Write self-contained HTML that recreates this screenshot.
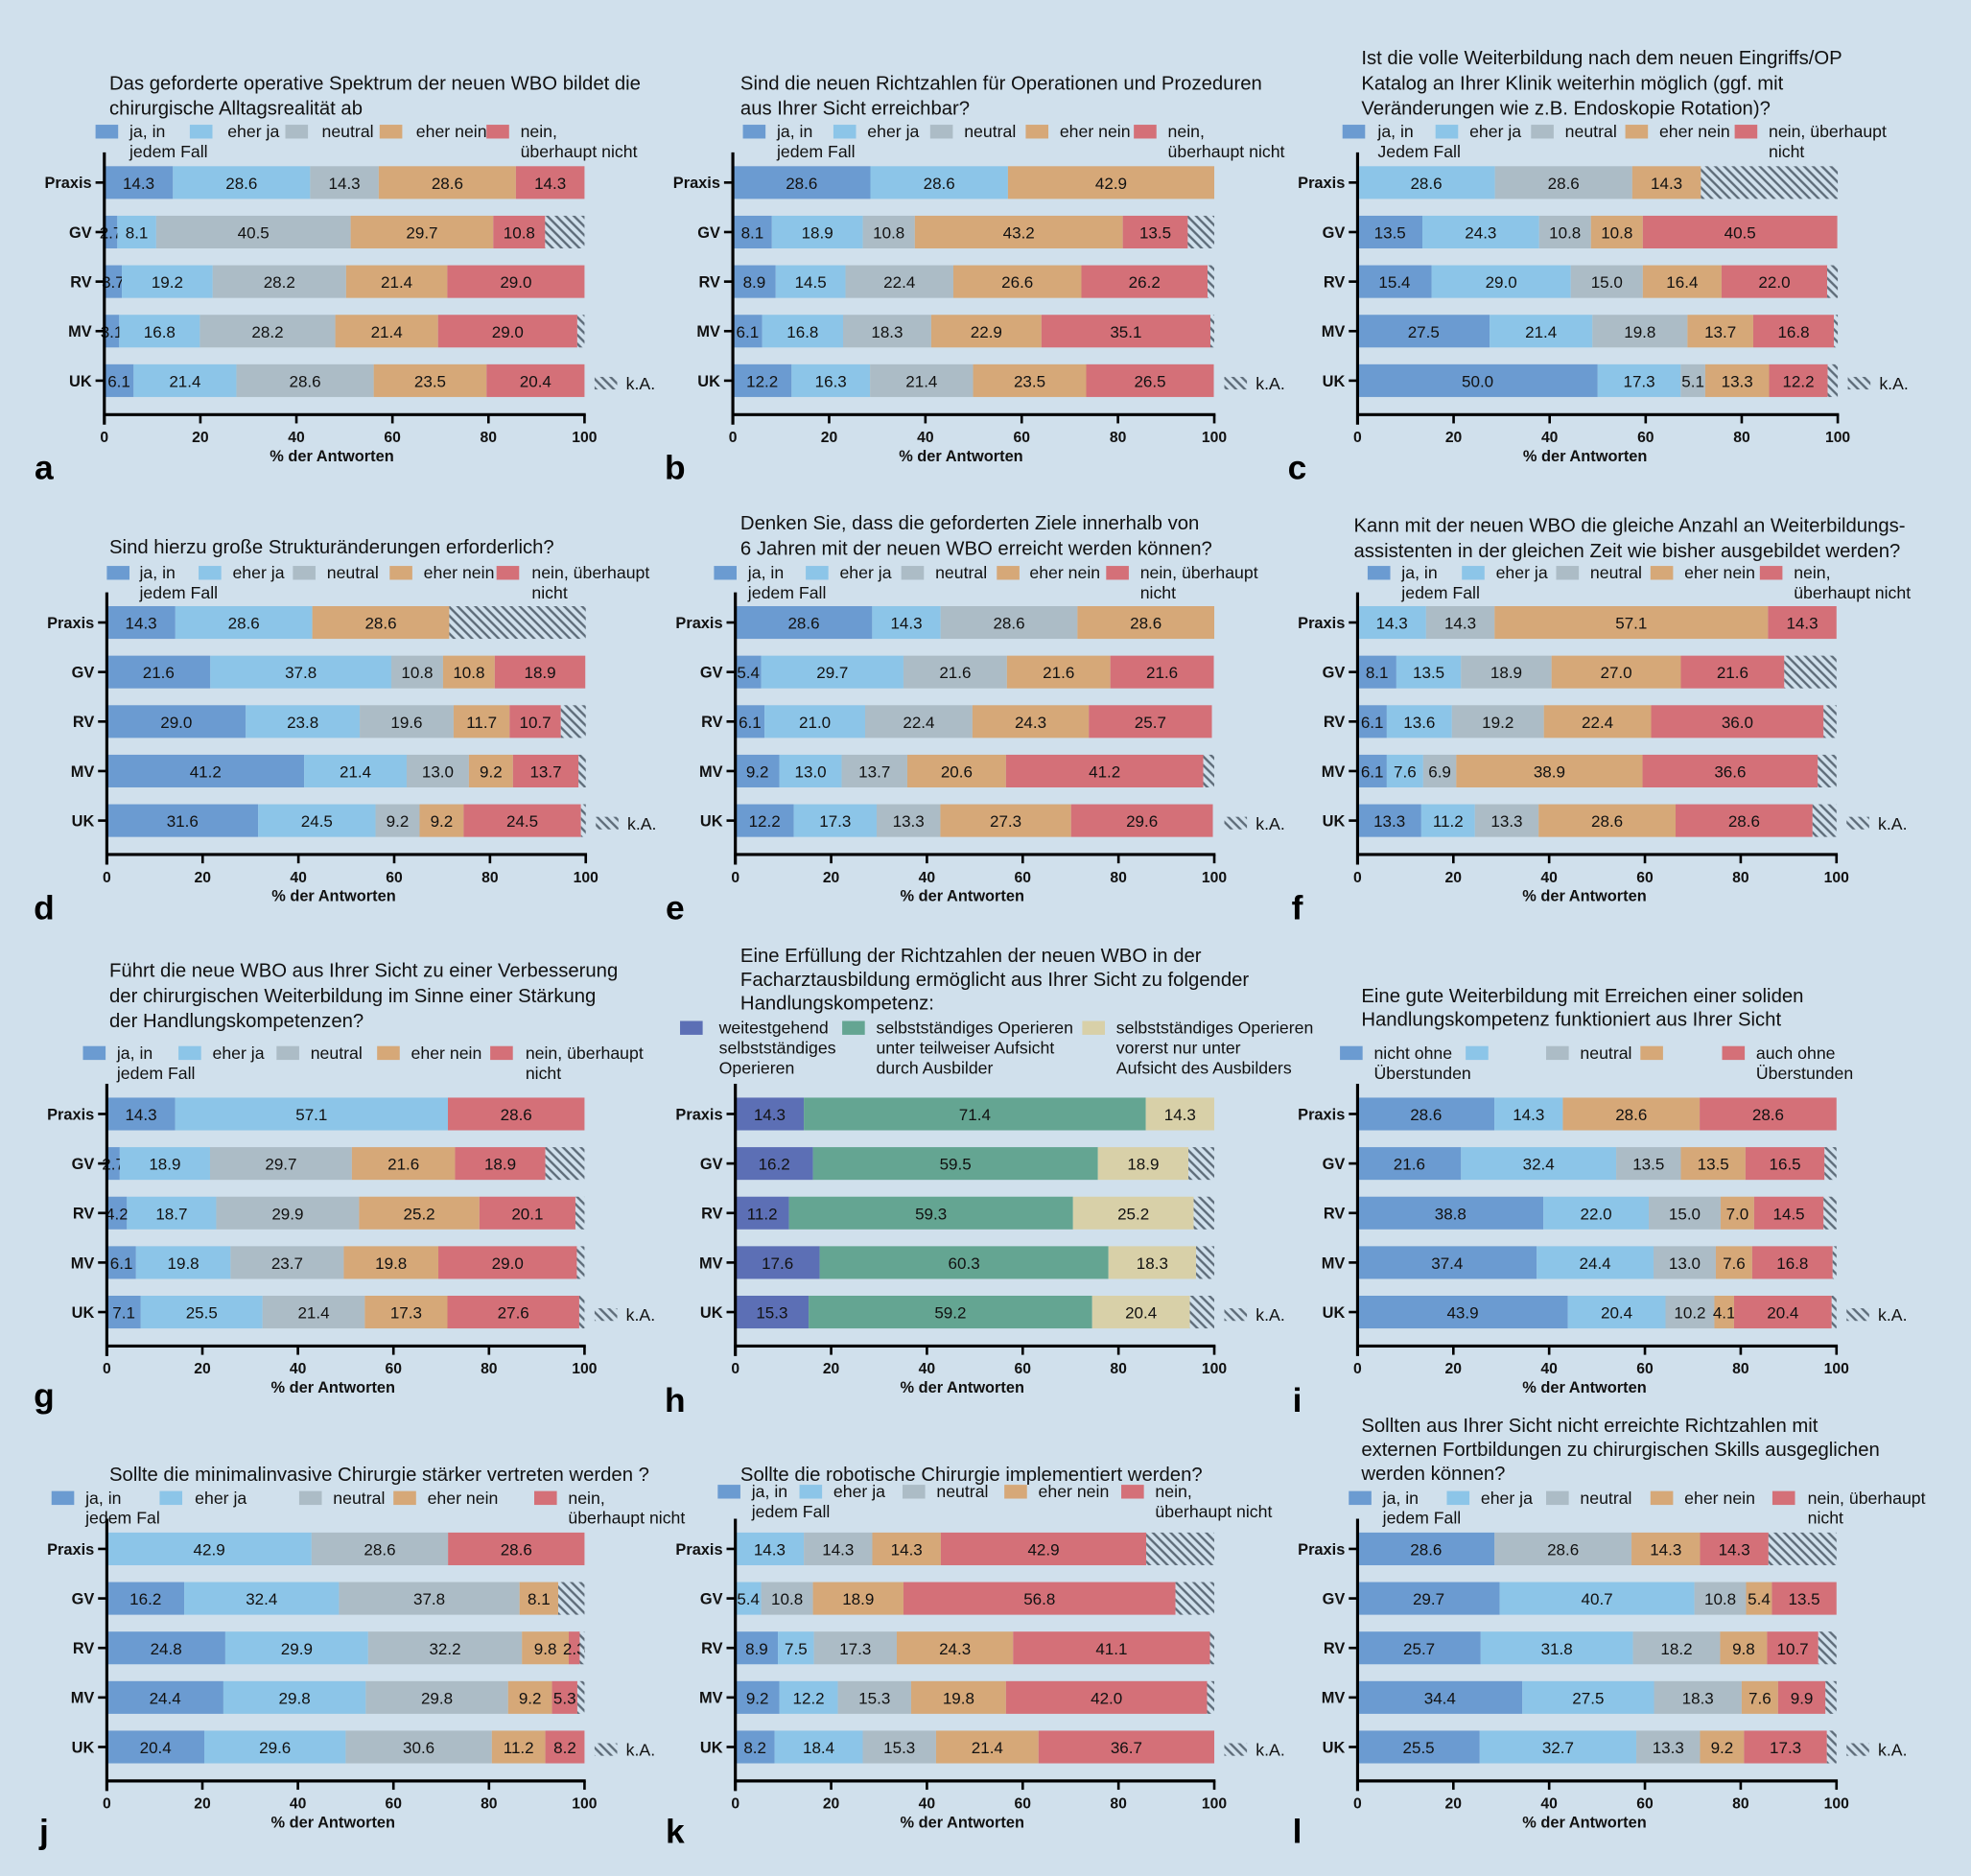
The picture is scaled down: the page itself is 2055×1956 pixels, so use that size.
<!DOCTYPE html>
<html><head><meta charset="utf-8">
<style>
html,body{margin:0;padding:0;background:#d0e0ec;}
svg{display:block;font-family:"Liberation Sans",Arial,sans-serif;}
</style></head>
<body>
<svg id="fig" width="2055" height="1956" viewBox="0 0 1568 1492" xmlns="http://www.w3.org/2000/svg">
<defs>
<pattern id="hatch" width="5" height="5" patternUnits="userSpaceOnUse" patternTransform="rotate(-45)">
<rect width="5" height="5" fill="#d0e0ec"/>
<line x1="1.5" y1="0" x2="1.5" y2="5" stroke="#5d6b78" stroke-width="1.8"/>
</pattern>
</defs>
<rect width="1568" height="1492" fill="#d0e0ec"/>
<g id="root"></g>
</svg>
<script>
const categories = ['Praxis','GV','RV','MV','UK'];
const tickLabels = [0,20,40,60,80,100];
const colors5 = ['#6b9bd1','#8cc5e8','#acbcc6','#d6a878','#d47078'];
const colors3 = ['#5c6fb5','#64a592','#d8d0a8'];

const valuesA = [[14.3,28.6,14.3,28.6,14.3],[2.7,8.1,40.5,29.7,10.8],[3.7,19.2,28.2,21.4,29.0],[3.1,16.8,28.2,21.4,29.0],[6.1,21.4,28.6,23.5,20.4]];
const valuesB = [[28.6,28.6,0,42.9,0],[8.1,18.9,10.8,43.2,13.5],[8.9,14.5,22.4,26.6,26.2],[6.1,16.8,18.3,22.9,35.1],[12.2,16.3,21.4,23.5,26.5]];
const valuesC = [[0,28.6,28.6,14.3,0],[13.5,24.3,10.8,10.8,40.5],[15.4,29.0,15.0,16.4,22.0],[27.5,21.4,19.8,13.7,16.8],[50.0,17.3,5.1,13.3,12.2]];
const valuesD = [[14.3,28.6,0,28.6,0],[21.6,37.8,10.8,10.8,18.9],[29.0,23.8,19.6,11.7,10.7],[41.2,21.4,13.0,9.2,13.7],[31.6,24.5,9.2,9.2,24.5]];
const valuesE = [[28.6,14.3,28.6,28.6,0],[5.4,29.7,21.6,21.6,21.6],[6.1,21.0,22.4,24.3,25.7],[9.2,13.0,13.7,20.6,41.2],[12.2,17.3,13.3,27.3,29.6]];
const valuesF = [[0,14.3,14.3,57.1,14.3],[8.1,13.5,18.9,27.0,21.6],[6.1,13.6,19.2,22.4,36.0],[6.1,7.6,6.9,38.9,36.6],[13.3,11.2,13.3,28.6,28.6]];
const valuesG = [[14.3,57.1,0,0,28.6],[2.7,18.9,29.7,21.6,18.9],[4.2,18.7,29.9,25.2,20.1],[6.1,19.8,23.7,19.8,29.0],[7.1,25.5,21.4,17.3,27.6]];
const valuesH = [[14.3,71.4,14.3],[16.2,59.5,18.9],[11.2,59.3,25.2],[17.6,60.3,18.3],[15.3,59.2,20.4]];
const valuesI = [[28.6,14.3,0,28.6,28.6],[21.6,32.4,13.5,13.5,16.5],[38.8,22.0,15.0,7.0,14.5],[37.4,24.4,13.0,7.6,16.8],[43.9,20.4,10.2,4.1,20.4]];
const valuesJ = [[0,42.9,28.6,0,28.6],[16.2,32.4,37.8,8.1,0],[24.8,29.9,32.2,9.8,2.3],[24.4,29.8,29.8,9.2,5.3],[20.4,29.6,30.6,11.2,8.2]];
const valuesK = [[0,14.3,14.3,14.3,42.9],[0,5.4,10.8,18.9,56.8],[8.9,7.5,17.3,24.3,41.1],[9.2,12.2,15.3,19.8,42.0],[8.2,18.4,15.3,21.4,36.7]];
const valuesL = [[28.6,0,28.6,14.3,14.3],[29.7,40.7,10.8,5.4,13.5],[25.7,31.8,18.2,9.8,10.7],[34.4,27.5,18.3,7.6,9.9],[25.5,32.7,13.3,9.2,17.3]];

const NS='http://www.w3.org/2000/svg';
const root=document.getElementById('root');
function mk(tag,attrs,parent,text){const e=document.createElementNS(NS,tag);for(const k in attrs)e.setAttribute(k,attrs[k]);if(text!==undefined)e.textContent=text;(parent||root).appendChild(e);return e;}

const panels=[
 {id:'a',vals:valuesA,cols:colors5,x0:83,x1:465,y0:145,letter:[35,372],
  title:[87,[66,86],['Das geforderte operative Spektrum der neuen WBO bildet die','chirurgische Alltagsrealität ab']],
  leg:{y:104,items:[[76,103,['ja, in','jedem Fall']],[151,181,['eher ja']],[227,256,['neutral']],[302,331,['eher nein']],[387,414,['nein,','überhaupt nicht']]]}},
 {id:'b',vals:valuesB,cols:colors5,x0:583,x1:966,y0:145,letter:[537,372],
  title:[589,[66,86],['Sind die neuen Richtzahlen für Operationen und Prozeduren','aus Ihrer Sicht erreichbar?']],
  leg:{y:104,items:[[591,618,['ja, in','jedem Fall']],[663,690,['eher ja']],[740,767,['neutral']],[816,843,['eher nein']],[902,929,['nein,','überhaupt nicht']]]}},
 {id:'c',vals:valuesC,cols:colors5,x0:1080,x1:1462,y0:145,letter:[1032,372],
  title:[1083,[46,66,86],['Ist die volle Weiterbildung nach dem neuen Eingriffs/OP','Katalog an Ihrer Klinik weiterhin möglich (ggf. mit','Veränderungen wie z.B. Endoskopie Rotation)?']],
  leg:{y:104,items:[[1068,1096,['ja, in','Jedem Fall']],[1142,1169,['eher ja']],[1218,1245,['neutral']],[1293,1320,['eher nein']],[1380,1407,['nein, überhaupt','nicht']]]}},
 {id:'d',vals:valuesD,cols:colors5,x0:85,x1:466,y0:495,letter:[35,722],
  title:[87,[435],['Sind hierzu große Strukturänderungen erforderlich?']],
  leg:{y:455,items:[[85,111,['ja, in','jedem Fall']],[158,185,['eher ja']],[233,260,['neutral']],[310,337,['eher nein']],[395,423,['nein, überhaupt','nicht']]]}},
 {id:'e',vals:valuesE,cols:colors5,x0:585,x1:966,y0:495,letter:[537,722],
  title:[589,[416,436],['Denken Sie, dass die geforderten Ziele  innerhalb von','6 Jahren mit der neuen WBO erreicht werden können?']],
  leg:{y:455,items:[[568,595,['ja, in','jedem Fall']],[641,668,['eher ja']],[717,744,['neutral']],[793,819,['eher nein']],[880,907,['nein, überhaupt','nicht']]]}},
 {id:'f',vals:valuesF,cols:colors5,x0:1080,x1:1461,y0:495,letter:[1032,722],
  title:[1077,[418,438],['Kann mit der neuen WBO die gleiche Anzahl  an Weiterbildungs-','assistenten in der gleichen Zeit wie bisher ausgebildet werden?']],
  leg:{y:455,items:[[1088,1115,['ja, in','jedem Fall']],[1163,1190,['eher ja']],[1238,1265,['neutral']],[1313,1340,['eher nein']],[1400,1427,['nein,','überhaupt nicht']]]}},
 {id:'g',vals:valuesG,cols:colors5,x0:85,x1:465,y0:886,letter:[35,1110],
  title:[87,[772,792,812],['Führt die neue WBO aus Ihrer Sicht zu einer Verbesserung','der chirurgischen Weiterbildung  im Sinne einer Stärkung',' der Handlungskompetenzen?']],
  leg:{y:837,items:[[66,93,['ja, in','jedem Fall']],[142,169,['eher ja']],[220,247,['neutral']],[300,327,['eher nein']],[390,418,['nein, überhaupt','nicht']]]}},
 {id:'h',vals:valuesH,cols:colors3,x0:585,x1:966,y0:886,letter:[537,1114],
  title:[589,[760,779,798],['Eine Erfüllung der Richtzahlen der neuen WBO in der','Facharztausbildung ermöglicht aus Ihrer Sicht zu folgender','Handlungskompetenz:']],
  leg:{y:817,items:[[541,572,['weitestgehend','selbstständiges','Operieren']],[670,697,['selbstständiges Operieren','unter teilweiser Aufsicht','durch Ausbilder']],[861,888,['selbstständiges Operieren','vorerst nur unter','Aufsicht des Ausbilders']]]}},
 {id:'i',vals:valuesI,cols:colors5,x0:1080,x1:1461,y0:886,letter:[1032,1114],
  title:[1083,[792,811],['Eine gute Weiterbildung mit Erreichen einer soliden','Handlungskompetenz funktioniert aus Ihrer Sicht']],
  leg:{y:837,items:[[1066,1093,['nicht ohne','Überstunden']],[1166,1193,[]],[1230,1257,['neutral']],[1305,1332,[]],[1370,1397,['auch ohne','Überstunden']]]}},
 {id:'j',vals:valuesJ,cols:colors5,x0:85,x1:465,y0:1232,letter:[35,1457],
  title:[87,[1173],['Sollte die minimalinvasive Chirurgie stärker vertreten werden ?']],
  leg:{y:1191,items:[[41,68,['ja, in','jedem Fal']],[127,155,['eher ja']],[238,265,['neutral']],[313,340,['eher nein']],[425,452,['nein,','überhaupt nicht']]]}},
 {id:'k',vals:valuesK,cols:colors5,x0:585,x1:966,y0:1232,letter:[537,1457],
  title:[589,[1173],['Sollte die robotische Chirurgie implementiert werden?']],
  leg:{y:1186,items:[[571,598,['ja, in','jedem Fall']],[636,663,['eher ja']],[718,745,['neutral']],[799,826,['eher nein']],[892,919,['nein,','überhaupt nicht']]]}},
 {id:'l',vals:valuesL,cols:colors5,x0:1080,x1:1461,y0:1232,letter:[1032,1457],
  title:[1083,[1134,1153,1172],['Sollten aus Ihrer Sicht nicht erreichte Richtzahlen mit','externen Fortbildungen zu chirurgischen Skills ausgeglichen','werden können?']],
  leg:{y:1191,items:[[1073,1100,['ja, in','jedem Fall']],[1151,1178,['eher ja']],[1230,1257,['neutral']],[1313,1340,['eher nein']],[1410,1438,['nein, überhaupt','nicht']]]}}
];

const STEP=39.4, BH=26;
panels.forEach(p=>{
  const g=mk('g',{});
  
  
  const xs=v=>p.x0+(p.x1-p.x0)*v/100;
  const ys=i=>p.y0+i*STEP;
  const axisY=ys(4)+27;
  p.title[2].forEach((t,k)=>{
    const e=mk('text',{x:p.title[0],y:p.title[1][k]+5,'font-size':15.5,fill:'#111'},g,t);
    
    
  });
  p.leg.items.forEach((it,k)=>{
    const sw=mk('rect',{x:it[0],y:p.leg.y-5,width:18,height:11,fill:p.cols[k]},g);
    
    
    it[2].forEach((t,m)=>{
      const e=mk('text',{x:it[1],y:p.leg.y+5+m*16,'font-size':13.5,fill:'#111'},g,t);
      
      
    });
  });
  p.vals.forEach((row,i)=>{
    const cy=ys(i);
    const total=row.reduce((a,b)=>a+b,0);
    const k=total>100?100/total:1;
    let cum=0;
    row.forEach((v,j)=>{
      if(v<=0)return;
      const w=v*k;
      const r=mk('rect',{x:xs(cum),y:cy-BH/2,width:xs(cum+w)-xs(cum),height:BH,fill:p.cols[j]},g);
      
      
      const t=mk('text',{x:(xs(cum)+xs(cum+w))/2,y:cy+5,'font-size':13,'text-anchor':'middle',fill:'#111'},g,v.toFixed(1));
      
      
      cum+=w;
    });
    if(cum<99.4){
      const h=mk('rect',{x:xs(cum),y:cy-BH/2,width:xs(100)-xs(cum),height:BH,fill:'url(#hatch)'},g);
      
      
    }
    const lbl=mk('text',{x:p.x0-10,y:cy+4.5,'font-size':12.5,'font-weight':'bold','text-anchor':'end',fill:'#111'},g,categories[i]);
    
    
    mk('line',{x1:p.x0-7,x2:p.x0,y1:cy,y2:cy,stroke:'#000','stroke-width':2},g);
  });
  const ky=ys(4)+2;
  const kh=mk('rect',{x:p.x1+8,y:ky-5,width:18,height:10,fill:'url(#hatch)'},g);
  
  
  const kt=mk('text',{x:p.x1+33,y:ky+5,'font-size':13.5,fill:'#111'},g,'k.A.');
  
  
  const ya=mk('line',{x1:p.x0,x2:p.x0,y1:p.y0-24,y2:axisY+8,stroke:'#000','stroke-width':2.4},g);
  
  
  const xa=mk('line',{x1:p.x0-1,x2:p.x1+1,y1:axisY,y2:axisY,stroke:'#000','stroke-width':2.4},g);
  
  
  tickLabels.forEach(t=>{
    mk('line',{x1:xs(t),x2:xs(t),y1:axisY,y2:axisY+7,stroke:'#000','stroke-width':2},g);
    const tl=mk('text',{x:xs(t),y:axisY+22,'font-size':12,'font-weight':'bold','text-anchor':'middle',fill:'#111'},g,String(t));
    
    
  });
  const at=mk('text',{x:(p.x0+p.x1)/2-10,y:axisY+37,'font-size':12.5,'font-weight':'bold','text-anchor':'middle',fill:'#111'},g,'% der Antworten');
  
  
  const lt=mk('text',{x:p.letter[0],y:p.letter[1]+9,'font-size':27,'font-weight':'bold','text-anchor':'middle',fill:'#000'},g,p.id);
  
  
});
</script>
</body></html>
